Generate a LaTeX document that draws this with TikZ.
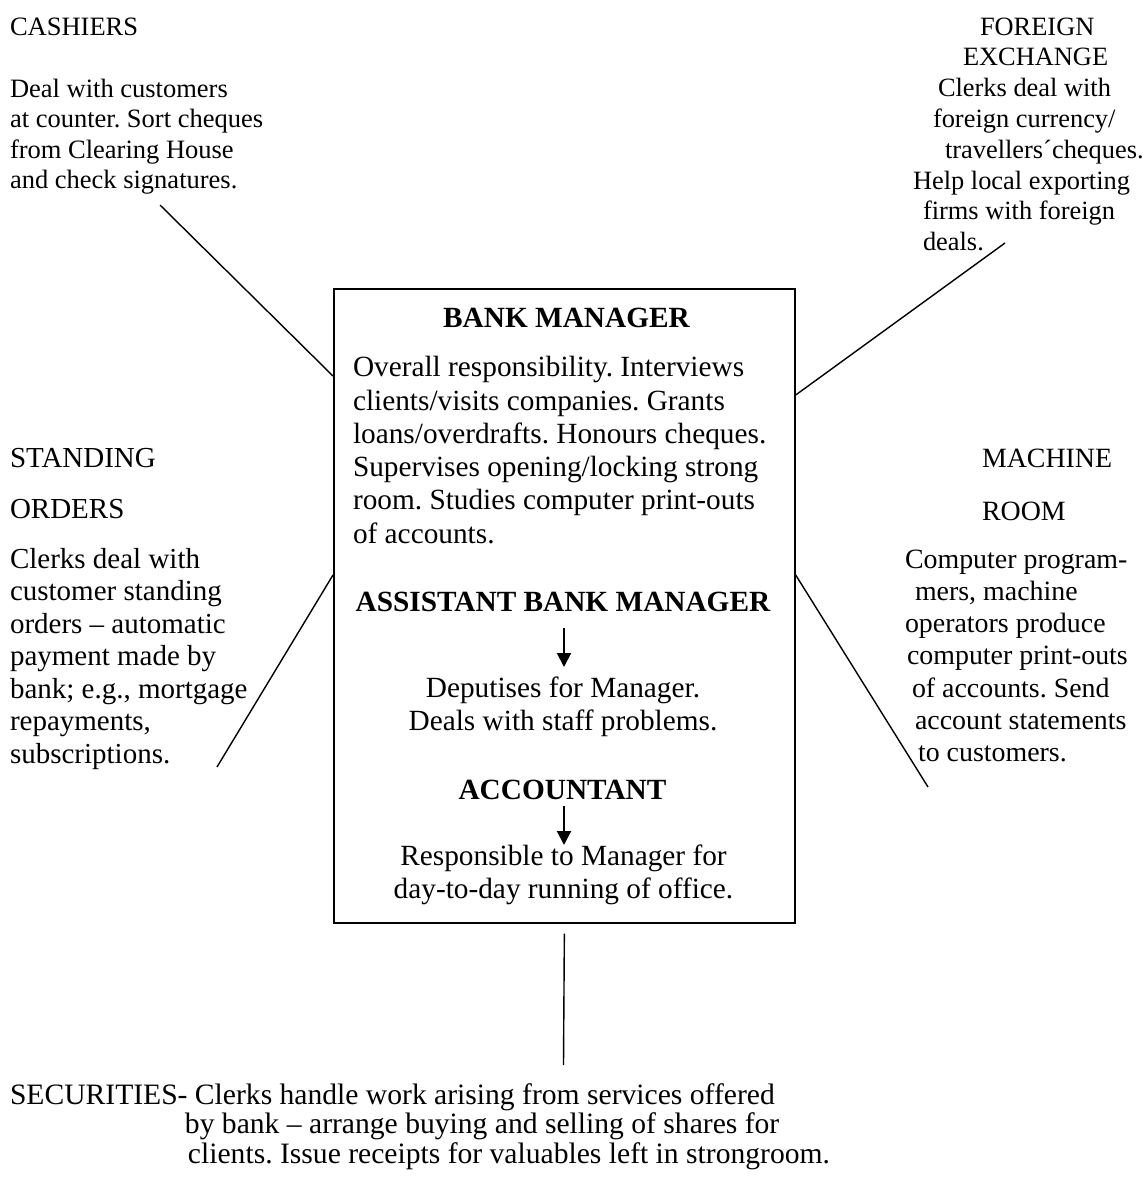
\documentclass[tikz,border=0pt]{standalone}
\usepackage{fontspec}
\setmainfont{Liberation Serif}
\usetikzlibrary{arrows.meta,calc}
\frenchspacing

% a block of lines whose first baseline sits on the node's base anchor
\newcommand\leftlines[3]{\fontsize{#1}{#2}\selectfont\begin{tabular}[t]{@{}l@{}}#3\end{tabular}}
\newcommand\midlines[3]{\fontsize{#1}{#2}\selectfont\begin{tabular}[t]{@{}c@{}}#3\end{tabular}}

\tikzset{
  txt/.style={inner sep=0pt, outer sep=0pt, anchor=base west},
  ctxt/.style={inner sep=0pt, outer sep=0pt, anchor=base},
  mainbox/.style={draw, line width=1.7pt, inner sep=0pt, anchor=north west},
  link/.style={line width=1.4pt},
  downarrow/.style={line width=2pt, -{Triangle[width=14pt,length=14pt]}},
}

\begin{document}
\begin{tikzpicture}[x=1pt,y=-1pt]
\useasboundingbox (0,0) rectangle (1143,1179);

% central box
\node[mainbox, minimum width=461pt, minimum height=634pt] (box) at (333,288) {};

\node[ctxt] (bmtitle) at (566.5,327) {\fontsize{29.3}{33}\selectfont\bfseries BANK MANAGER};
\node[txt] (bmtext) at (353,376.7) {\leftlines{29.3}{33.3}{%
Overall responsibility. Interviews\\
clients/visits companies. Grants\\
loans/overdrafts. Honours cheques.\\
Supervises opening/locking strong\\
room. Studies computer print-outs\\
of accounts.}};

\node[ctxt] (abm) at (563,611.5) {\fontsize{29.3}{33}\selectfont\bfseries ASSISTANT BANK MANAGER};
\node[ctxt] (dep) at (563,697) {\midlines{29.3}{33}{%
Deputises for Manager.\\
Deals with staff problems.}};

\node[ctxt] (acc) at (562.5,799) {\fontsize{29.3}{33}\selectfont\bfseries ACCOUNTANT};
\node[ctxt] (resp) at (563.5,865) {\midlines{29.3}{33}{%
Responsible to Manager for\\
day-to-day running of office.}};

\coordinate (abmfoot) at (564,628);
\coordinate (deptop) at (564,667);
\coordinate (accfoot) at (564,806);
\coordinate (resptop) at (564,845);
\draw[downarrow] (abmfoot) -- (deptop);
\draw[downarrow] (accfoot) -- (resptop);

% cashiers
\node[txt] (cashtitle) at (10,35) {\fontsize{26.5}{30.5}\selectfont CASHIERS};
\node[txt] (cashtext) at (10,97) {\leftlines{26.5}{30.5}{%
Deal with customers\\
at counter. Sort cheques\\
from Clearing House\\
and check signatures.}};
\coordinate (cashend) at (160,205);
\draw[link] (cashend) -- ($(box.north west)+(0,88)$);

% foreign exchange
\node[txt] (forex) at (913,35) {\leftlines{26.4}{30.8}{%
\hspace*{67pt}FOREIGN\\
\hspace*{50pt}EXCHANGE\\
\hspace*{25pt}Clerks deal with\\
\hspace*{20pt}foreign currency/\\
\hspace*{32pt}travellers´cheques.\\
Help local exporting\\
\hspace*{10pt}firms with foreign\\
\hspace*{10pt}deals.}};
\coordinate (forexend) at (1005,243);
\draw[link] (forexend) -- ($(box.north east)+(0,107)$);

% standing orders
\node[txt] (standtitle) at (10,467) {\leftlines{29}{51}{STANDING\\ORDERS}};
\node[txt] (standtext) at (10,568) {\leftlines{29}{32.5}{%
Clerks deal with\\
customer standing\\
orders \textendash\ automatic\\
payment made by\\
bank; e.g., mortgage\\
repayments,\\
subscriptions.}};
\coordinate (standend) at (217,767);
\draw[link] ($(box.north west)+(0,287)$) -- (standend);

% machine room
\node[txt] (machtitle) at (982,467) {\leftlines{27.9}{53}{MACHINE\\ROOM}};
\node[txt] (machtext) at (905,568) {\leftlines{27.9}{32.3}{%
Computer program-\\
\hspace*{10pt}mers, machine\\
operators produce\\
\hspace*{2pt}computer print-outs\\
\hspace*{7pt}of accounts. Send\\
\hspace*{10pt}account statements\\
\hspace*{13pt}to customers.}};
\coordinate (machend) at (928,787);
\draw[link] ($(box.north east)+(0,287)$) -- (machend);

% securities
\node[txt] (sec) at (10,1104) {\leftlines{29.6}{29.5}{%
SECURITIES- Clerks handle work arising from services offered\\
\hspace*{175pt}by bank \textendash\ arrange buying and selling of shares for\\
\hspace*{178pt}clients. Issue receipts for valuables left in strongroom.}};
\coordinate (secend) at (563.5,1065);
\draw[link] ([yshift=-10pt]box.south) -- (secend);
\end{tikzpicture}
\end{document}
